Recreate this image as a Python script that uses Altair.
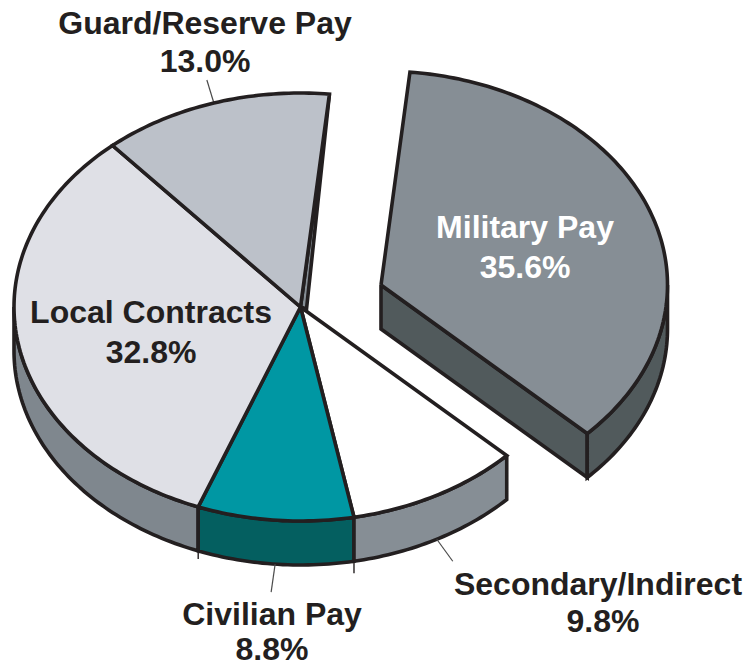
import math
import altair as alt
import pandas as pd

# Budget shares, clockwise from the Military Pay wedge
categories = ["Military Pay", "Secondary/Indirect", "Civilian Pay", "Local Contracts", "Guard/Reserve Pay"]
shares = [35.6, 9.8, 8.8, 32.8, 13.0]

# Colours per slice: top face and rim
top_colors = ["#868e95", "#ffffff", "#0097a3", "#dfe0e6", "#bcc1c9"]
rim_colors = ["#515a5c", "#868e95", "#045f60", "#7f878e", "#868e95"]
INK = "#231f20"

# Tilted-pie geometry
W, H = 748, 664
CX, CY = 300.5, 307
RX, RY = 286.5, 214
DEPTH = 44
START = 5.8
EXPLODE = {"Military Pay": (80.5, -22)}

# Cumulative angular extents of the slices
spans = {}
a = START
for name, s in zip(categories, shares):
    spans[name] = (a, a + s * 3.6)
    a += s * 3.6


def rim(t, dx=0, dy=0):
    r = math.radians(t)
    return (CX + dx + RX * math.sin(r), CY + dy - RY * math.cos(r))


def arc(t0, t1, dx=0, dy=0):
    n = max(2, int(abs(t1 - t0)) + 1)
    return [rim(t0 + (t1 - t0) * i / (n - 1), dx, dy) for i in range(n)]


def shape(points, fill, stroke=INK, width=3.6):
    pts = list(points) + [points[0]]
    df = pd.DataFrame({"x": [p[0] for p in pts], "y": [p[1] for p in pts], "i": range(len(pts))})
    return alt.Chart(df).mark_line(
        fill=fill, stroke=stroke, strokeWidth=width, strokeJoin="miter", strokeMiterLimit=10, clip=False
    ).encode(x=X, y=Y, order="i:Q")


def stroke_only(points, width=1.2, stroke="#4a4a4a"):
    df = pd.DataFrame({"x": [p[0] for p in points], "y": [p[1] for p in points], "i": range(len(points))})
    return alt.Chart(df).mark_line(stroke=stroke, strokeWidth=width).encode(x=X, y=Y, order="i:Q")


X = alt.X("x:Q", scale=alt.Scale(domain=[0, W], nice=False, zero=False), axis=None)
Y = alt.Y("y:Q", scale=alt.Scale(domain=[H, 0], nice=False, zero=False), axis=None)

layers = []

# Rim faces of the main pie
for name, lo, hi in [
    ("Local Contracts", spans["Civilian Pay"][1], 270),
    ("Civilian Pay", *spans["Civilian Pay"]),
    ("Secondary/Indirect", *spans["Secondary/Indirect"]),
]:
    c = rim_colors[categories.index(name)]
    layers.append(shape(arc(lo, hi) + arc(hi, lo, 0, DEPTH), c))

# Small spikes below the rim seams of the teal slice
for t, length in [(spans["Civilian Pay"][1], 8), (spans["Civilian Pay"][0], 12)]:
    x0, y0 = rim(t, 0, DEPTH)
    layers.append(stroke_only([(x0, y0), (x0, y0 + length)], width=1.4, stroke=INK))

# Thin cut face behind the Guard/Reserve wedge
g_end = spans["Guard/Reserve Pay"][1] - 360
layers.append(shape([(CX, CY), rim(g_end), (CX + 6, CY + 2)], rim_colors[4]))

# Leader lines, starting at the middle of each slice's outer edge
leaders = {
    "Guard/Reserve Pay": (0, (-7, -23)),
    "Secondary/Indirect": (DEPTH, (16, 22)),
    "Civilian Pay": (DEPTH, (-4, 28)),
}
for name, (drop, (ux, uy)) in leaders.items():
    x0, y0 = rim(sum(spans[name]) / 2, 0, drop)
    layers.append(stroke_only([(x0, y0), (x0 + ux, y0 + uy)]))

# Top faces of the main pie
for name in categories[1:]:
    t0, t1 = spans[name]
    layers.append(shape([(CX, CY)] + arc(t0, t1), top_colors[categories.index(name)]))

# Exploded wedge: cut face, outer rim, then top
ox, oy = EXPLODE["Military Pay"]
t0, t1 = spans["Military Pay"]
centre = (CX + ox, CY + oy)
end = rim(t1, ox, oy)
layers.append(shape([centre, end, (end[0], end[1] + DEPTH), (centre[0], centre[1] + DEPTH)], rim_colors[0]))
layers.append(shape(arc(90, t1, ox, oy) + arc(t1, 90, ox, oy + DEPTH), rim_colors[0]))
layers.append(shape([centre] + arc(t0, t1, ox, oy), top_colors[0]))

# Two-line labels stating each share
label_pos = {
    "Guard/Reserve Pay": (205, 24, 205, 62, INK),
    "Military Pay": (525, 228, 525, 268, "#ffffff"),
    "Local Contracts": (151, 313, 151, 353, INK),
    "Secondary/Indirect": (598, 585, 603, 622, INK),
    "Civilian Pay": (272, 615, 272, 650, INK),
}
rows = []
for name, s in zip(categories, shares):
    x1, y1, x2, y2, col = label_pos[name]
    rows.append({"x": x1, "y": y1, "t": name, "c": col})
    rows.append({"x": x2, "y": y2, "t": f"{s:.1f}%", "c": col})
layers.append(
    alt.Chart(pd.DataFrame(rows)).mark_text(
        font="Liberation Sans", fontWeight="bold", fontSize=32, align="center", baseline="middle"
    ).encode(x=X, y=Y, text="t:N", color=alt.Color("c:N", scale=None, legend=None))
)

chart = alt.layer(*layers).properties(
    width=W, height=H, padding=0, autosize=alt.AutoSizeParams(type="none")
).configure_view(stroke=None)

chart.save("out.html", embed_options={"renderer": "svg", "actions": False})
